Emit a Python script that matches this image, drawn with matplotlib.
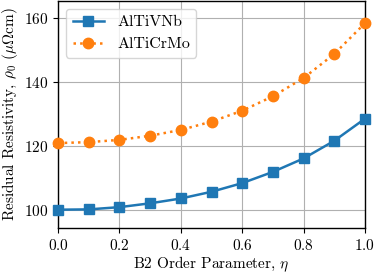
import numpy as np
import matplotlib
matplotlib.use("Agg")
import matplotlib.pyplot as plt

plt.rcParams["font.family"] = ["cmr10", "DejaVu Serif"]
plt.rcParams["mathtext.fontset"] = "cm"
plt.rcParams["axes.formatter.use_mathtext"] = True
plt.rcParams["font.size"] = 11
plt.rcParams["axes.linewidth"] = 1.0

# data
eta = [0.0, 0.1, 0.2, 0.3, 0.4, 0.5, 0.6, 0.7, 0.8, 0.9, 1.0]
rho_altivnb = [100.2, 100.3, 101.0, 102.2, 103.7, 105.8, 108.5, 112.0, 116.2, 121.7, 128.6]
rho_alticrmo = [121.0, 121.3, 122.0, 123.3, 125.1, 127.7, 131.1, 135.6, 141.3, 148.8, 158.4]

fig = plt.figure(figsize=(3.75, 2.74), dpi=100)
ax = fig.add_axes([0.155, 0.168, 0.818, 0.830])

ax.plot(eta, rho_altivnb, "s-", color="#1f77b4", lw=1.8, ms=7.5, label="AlTiVNb", clip_on=False, zorder=3)
ax.plot(eta, rho_alticrmo, "o:", color="#ff7f0e", lw=1.8, ms=7.5, label="AlTiCrMo", clip_on=False, zorder=3)

ax.set_xlim(0, 1)
ax.set_ylim(94.5, 165.5)
ax.set_xticks(np.arange(0, 1.01, 0.2))
ax.set_yticks([100, 120, 140, 160])
ax.grid(True, color="#b0b0b0", lw=0.8)
ax.set_xlabel(r"B2 Order Parameter, $\eta$", labelpad=1.5)
ax.set_ylabel(r"Residual Resistivity, $\rho_0$ ($\mu\Omega$cm)", labelpad=3)
ax.legend(loc="upper left", fontsize=11.5)

fig.savefig("out.png", dpi=100)
